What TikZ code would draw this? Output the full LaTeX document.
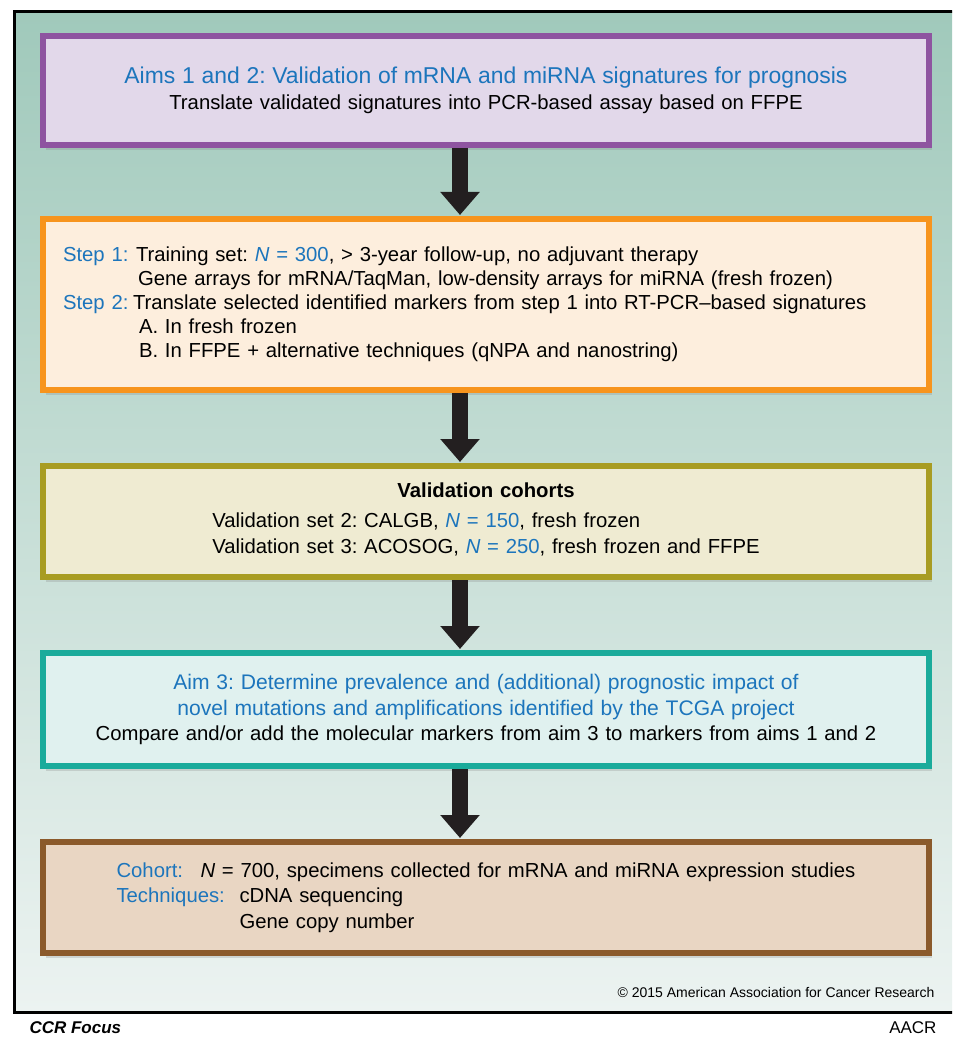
\documentclass[tikz,border=0pt]{standalone}
\usepackage{fontspec}
\setmainfont{Liberation Sans}
\usepackage{xcolor}
\usetikzlibrary{arrows.meta, positioning, shadows}
\frenchspacing

\definecolor{aimblue}{RGB}{28,117,188}
\definecolor{bgtop}{RGB}{160,201,187}
\definecolor{bgbottom}{RGB}{236,243,241}
\definecolor{purplefill}{RGB}{226,216,234}
\definecolor{purpleline}{RGB}{142,84,160}
\definecolor{orangefill}{RGB}{253,238,221}
\definecolor{orangeline}{RGB}{247,148,29}
\definecolor{olivefill}{RGB}{239,235,210}
\definecolor{oliveline}{RGB}{168,156,34}
\definecolor{tealfill}{RGB}{224,241,239}
\definecolor{tealline}{RGB}{26,171,155}
\definecolor{brownfill}{RGB}{233,214,195}
\definecolor{brownline}{RGB}{139,90,43}
\definecolor{arrowgray}{RGB}{35,31,32}

\begin{document}
\begin{tikzpicture}[x=1pt, y=-1pt,
		% Defining consistent styles
		aimbox/.style={
				rectangle,
				draw=purpleline,
				line width=6pt,
				fill=purplefill,
				minimum width=886pt,
				minimum height=109pt,
				inner xsep=20pt,
				text width=846pt,
				align=center,
				drop shadow={shadow xshift=3pt, shadow yshift=-5pt, opacity=0.25}
			},
		stepbox/.style={
				rectangle,
				draw=orangeline,
				line width=6pt,
				fill=orangefill,
				minimum width=886pt,
				minimum height=171pt,
				inner xsep=20pt,
				text width=846pt,
				align=left,
				font=\fontsize{20.3}{24}\selectfont,
				drop shadow={shadow xshift=3pt, shadow yshift=-5pt, opacity=0.25}
			},
		cohortbox/.style={
				rectangle,
				draw=oliveline,
				line width=6pt,
				fill=olivefill,
				minimum width=886pt,
				minimum height=111pt,
				inner xsep=20pt,
				text width=846pt,
				align=center,
				drop shadow={shadow xshift=3pt, shadow yshift=-5pt, opacity=0.25}
			},
		tcgabox/.style={
				rectangle,
				draw=tealline,
				line width=6pt,
				fill=tealfill,
				minimum width=886pt,
				minimum height=113pt,
				inner xsep=20pt,
				text width=846pt,
				align=center,
				drop shadow={shadow xshift=3pt, shadow yshift=-5pt, opacity=0.25}
			},
		specimenbox/.style={
				rectangle,
				draw=brownline,
				line width=6pt,
				fill=brownfill,
				minimum width=886pt,
				minimum height=111pt,
				inner xsep=20pt,
				text width=846pt,
				align=center,
				drop shadow={shadow xshift=3pt, shadow yshift=-5pt, opacity=0.25}
			},
		% Defining arrow style
		arrow/.style={
				-{Triangle[length=23pt,width=38pt]},
				line width=16pt,
				draw=arrowgray,
				shorten >=1pt
			},
		font=\fontsize{20.3}{25.5}\selectfont,
		node distance=70pt
		]

		\clip (0,0) rectangle (952,1040);
		\fill[white] (0,0) rectangle (952,1040);

		% Background panel
		\shade[top color=bgtop, bottom color=bgbottom] (14,12) rectangle (970,1012);
		\draw[line width=3pt] (970,12) -- (14,12) -- (14,1012) -- (970,1012);

		% Aims 1 and 2
		\node[aimbox] (aims) at (486,90.5) {
				{\fontsize{22.9}{26}\selectfont\textcolor{aimblue}{Aims 1 and 2: Validation of mRNA and miRNA signatures for prognosis}} \\
				Translate validated signatures into PCR-based assay based on FFPE
			};

		% Training and translation steps
		\node[stepbox, below=68pt of aims] (steps) {
				\makebox[73pt][l]{\textcolor{aimblue}{Step 1:}}Training set: \textcolor{aimblue}{\textit{N} = 300}, > 3-year follow-up, no adjuvant therapy \\
				\hspace*{75pt}Gene arrays for mRNA/TaqMan, low-density arrays for miRNA (fresh frozen) \\
				\makebox[70pt][l]{\textcolor{aimblue}{Step 2:}}Translate selected identified markers from step 1 into RT-PCR–based signatures \\
				\hspace*{76pt}A. In fresh frozen \\
				\hspace*{76pt}B. In FFPE + alternative techniques (qNPA and nanostring)
			};

		% Validation cohorts
		\node[cohortbox, below=of steps] (cohorts) {
				\textbf{Validation cohorts} \\[5pt]
				\begin{tabular}[t]{@{}l@{}}
					Validation set 2: CALGB, \textcolor{aimblue}{\textit{N} = 150}, fresh frozen \\
					Validation set 3: ACOSOG, \textcolor{aimblue}{\textit{N} = 250}, fresh frozen and FFPE
				\end{tabular}
			};

		% Aim 3
		\node[tcgabox, below=of cohorts] (aim3) {
				{\fontsize{21.1}{24}\selectfont\textcolor{aimblue}{Aim 3: Determine prevalence and (additional) prognostic impact of} \\
				\textcolor{aimblue}{novel mutations and amplifications identified by the TCGA project}} \\
				Compare and/or add the molecular markers from aim 3 to markers from aims 1 and 2
			};

		% Specimens and techniques
		\node[specimenbox, below=of aim3] (specimens) {
				\begin{tabular}{@{}l@{}}
					\makebox[84pt][l]{\textcolor{aimblue}{Cohort:}}\textit{N} = 700, specimens collected for mRNA and miRNA expression studies \\
					\makebox[123pt][l]{\textcolor{aimblue}{Techniques:}}cDNA sequencing \\
					\hspace*{123pt}Gene copy number
				\end{tabular}
			};

		% Drawing flow arrows
		\draw[arrow] ([xshift=-26pt]aims.south) -- ([xshift=-26pt]steps.north);
		\draw[arrow] ([xshift=-26pt]steps.south) -- ([xshift=-26pt]cohorts.north);
		\draw[arrow] ([xshift=-26pt]cohorts.south) -- ([xshift=-26pt]aim3.north);
		\draw[arrow] ([xshift=-26pt]aim3.south) -- ([xshift=-26pt]specimens.north);

		% Credits
		\node[anchor=east, font=\fontsize{14}{16}\selectfont] (copyright) at (938,992) {\textcopyright{} 2015 American Association for Cancer Research};
		\node[anchor=west, font=\fontsize{17}{18}\selectfont\bfseries\itshape] (journal) at (26,1028) {CCR Focus};
		\node[anchor=east, font=\fontsize{17}{18}\selectfont] (logo) at (940,1028) {AACR};

	\end{tikzpicture}
\end{document}
